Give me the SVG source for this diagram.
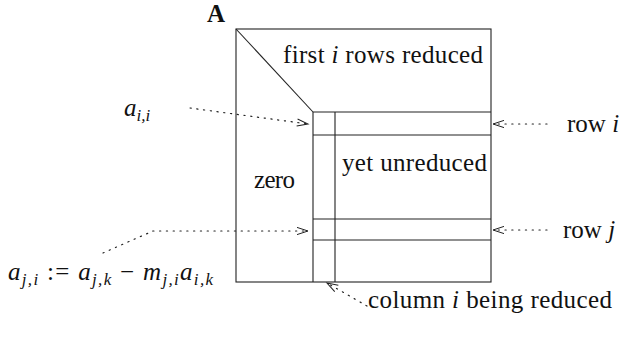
<svg xmlns="http://www.w3.org/2000/svg" width="621" height="341" viewBox="0 0 621 341">
<style>
text{font-family:'Liberation Serif','DejaVu Serif',serif}
.t{font-size:25px;fill:#111}
.m{font-style:italic}
.s{font-size:17px;font-style:italic}
.ln{stroke:#222;stroke-width:1.1;fill:none}
.dot{stroke:#222;stroke-width:1.2;fill:none;stroke-dasharray:1.2 5.6;stroke-linecap:round}
</style>
<defs>
<marker id="ah" markerUnits="userSpaceOnUse" markerWidth="14" markerHeight="10" viewBox="-12 -5 14 10" refX="0" refY="0" orient="auto" overflow="visible">
<path d="M-11,-3.6 L0,0 L-11,3.6" fill="none" stroke="#222" stroke-width="1" stroke-dasharray="none"/>
</marker>
</defs>
<g font-family="Liberation Serif, serif">
<g id="matrix">
<rect class="ln" x="236" y="29" width="255" height="253"/>
<line class="ln" x1="236" y1="29" x2="313" y2="112"/>
<text class="t" x="207" y="22" font-weight="bold" font-size="23">A</text>
</g>
<g id="reduced">
<text class="t" x="283" y="63" textLength="200" lengthAdjust="spacing">first <tspan class="m">i</tspan> rows reduced</text>
</g>
<g id="unreduced">
<path class="ln" d="M313,112 H491 M313,112 V282 M335,112 V282 M313,135 H491 M313,219 H491 M313,240 H491"/>
<text class="t" x="342" y="171" textLength="145" lengthAdjust="spacing">yet unreduced</text>
</g>
<g id="zero">
<text class="t" x="254" y="188" textLength="41" lengthAdjust="spacing">zero</text>
</g>
<g id="aii">
<text class="t" x="124" y="116"><tspan class="m">a</tspan><tspan class="s" dy="5">i,i</tspan></text>
</g>
<g id="rowi">
<text class="t" x="567" y="132">row <tspan class="m">i</tspan></text>
</g>
<g id="rowj">
<text class="t" x="563" y="238">row <tspan class="m">j</tspan></text>
</g>
<g id="formula">
<text class="t" x="8" y="280" textLength="205" lengthAdjust="spacing"><tspan class="m">a</tspan><tspan class="s" dy="5">j,i</tspan><tspan dy="-5"> := </tspan><tspan class="m">a</tspan><tspan class="s" dy="5">j,k</tspan><tspan dy="-5"> − </tspan><tspan class="m">m</tspan><tspan class="s" dy="5">j,i</tspan><tspan class="m" dy="-5">a</tspan><tspan class="s" dy="5">i,k</tspan></text>
</g>
<g id="column">
<text class="t" x="368" y="308" textLength="244" lengthAdjust="spacing">column <tspan class="m">i</tspan> being reduced</text>
</g>
<g id="connectors">
<path class="dot" d="M190,108 L308,124" marker-end="url(#ah)"/>
<path class="dot" d="M547,124 L493,124" marker-end="url(#ah)"/>
<path class="dot" d="M103,253 L153,231 L308,231" marker-end="url(#ah)"/>
<path class="dot" d="M547,230 L493,230" marker-end="url(#ah)"/>
<path class="dot" d="M367,306 L327,283" marker-end="url(#ah)"/>
</g>
</g>
</svg>
